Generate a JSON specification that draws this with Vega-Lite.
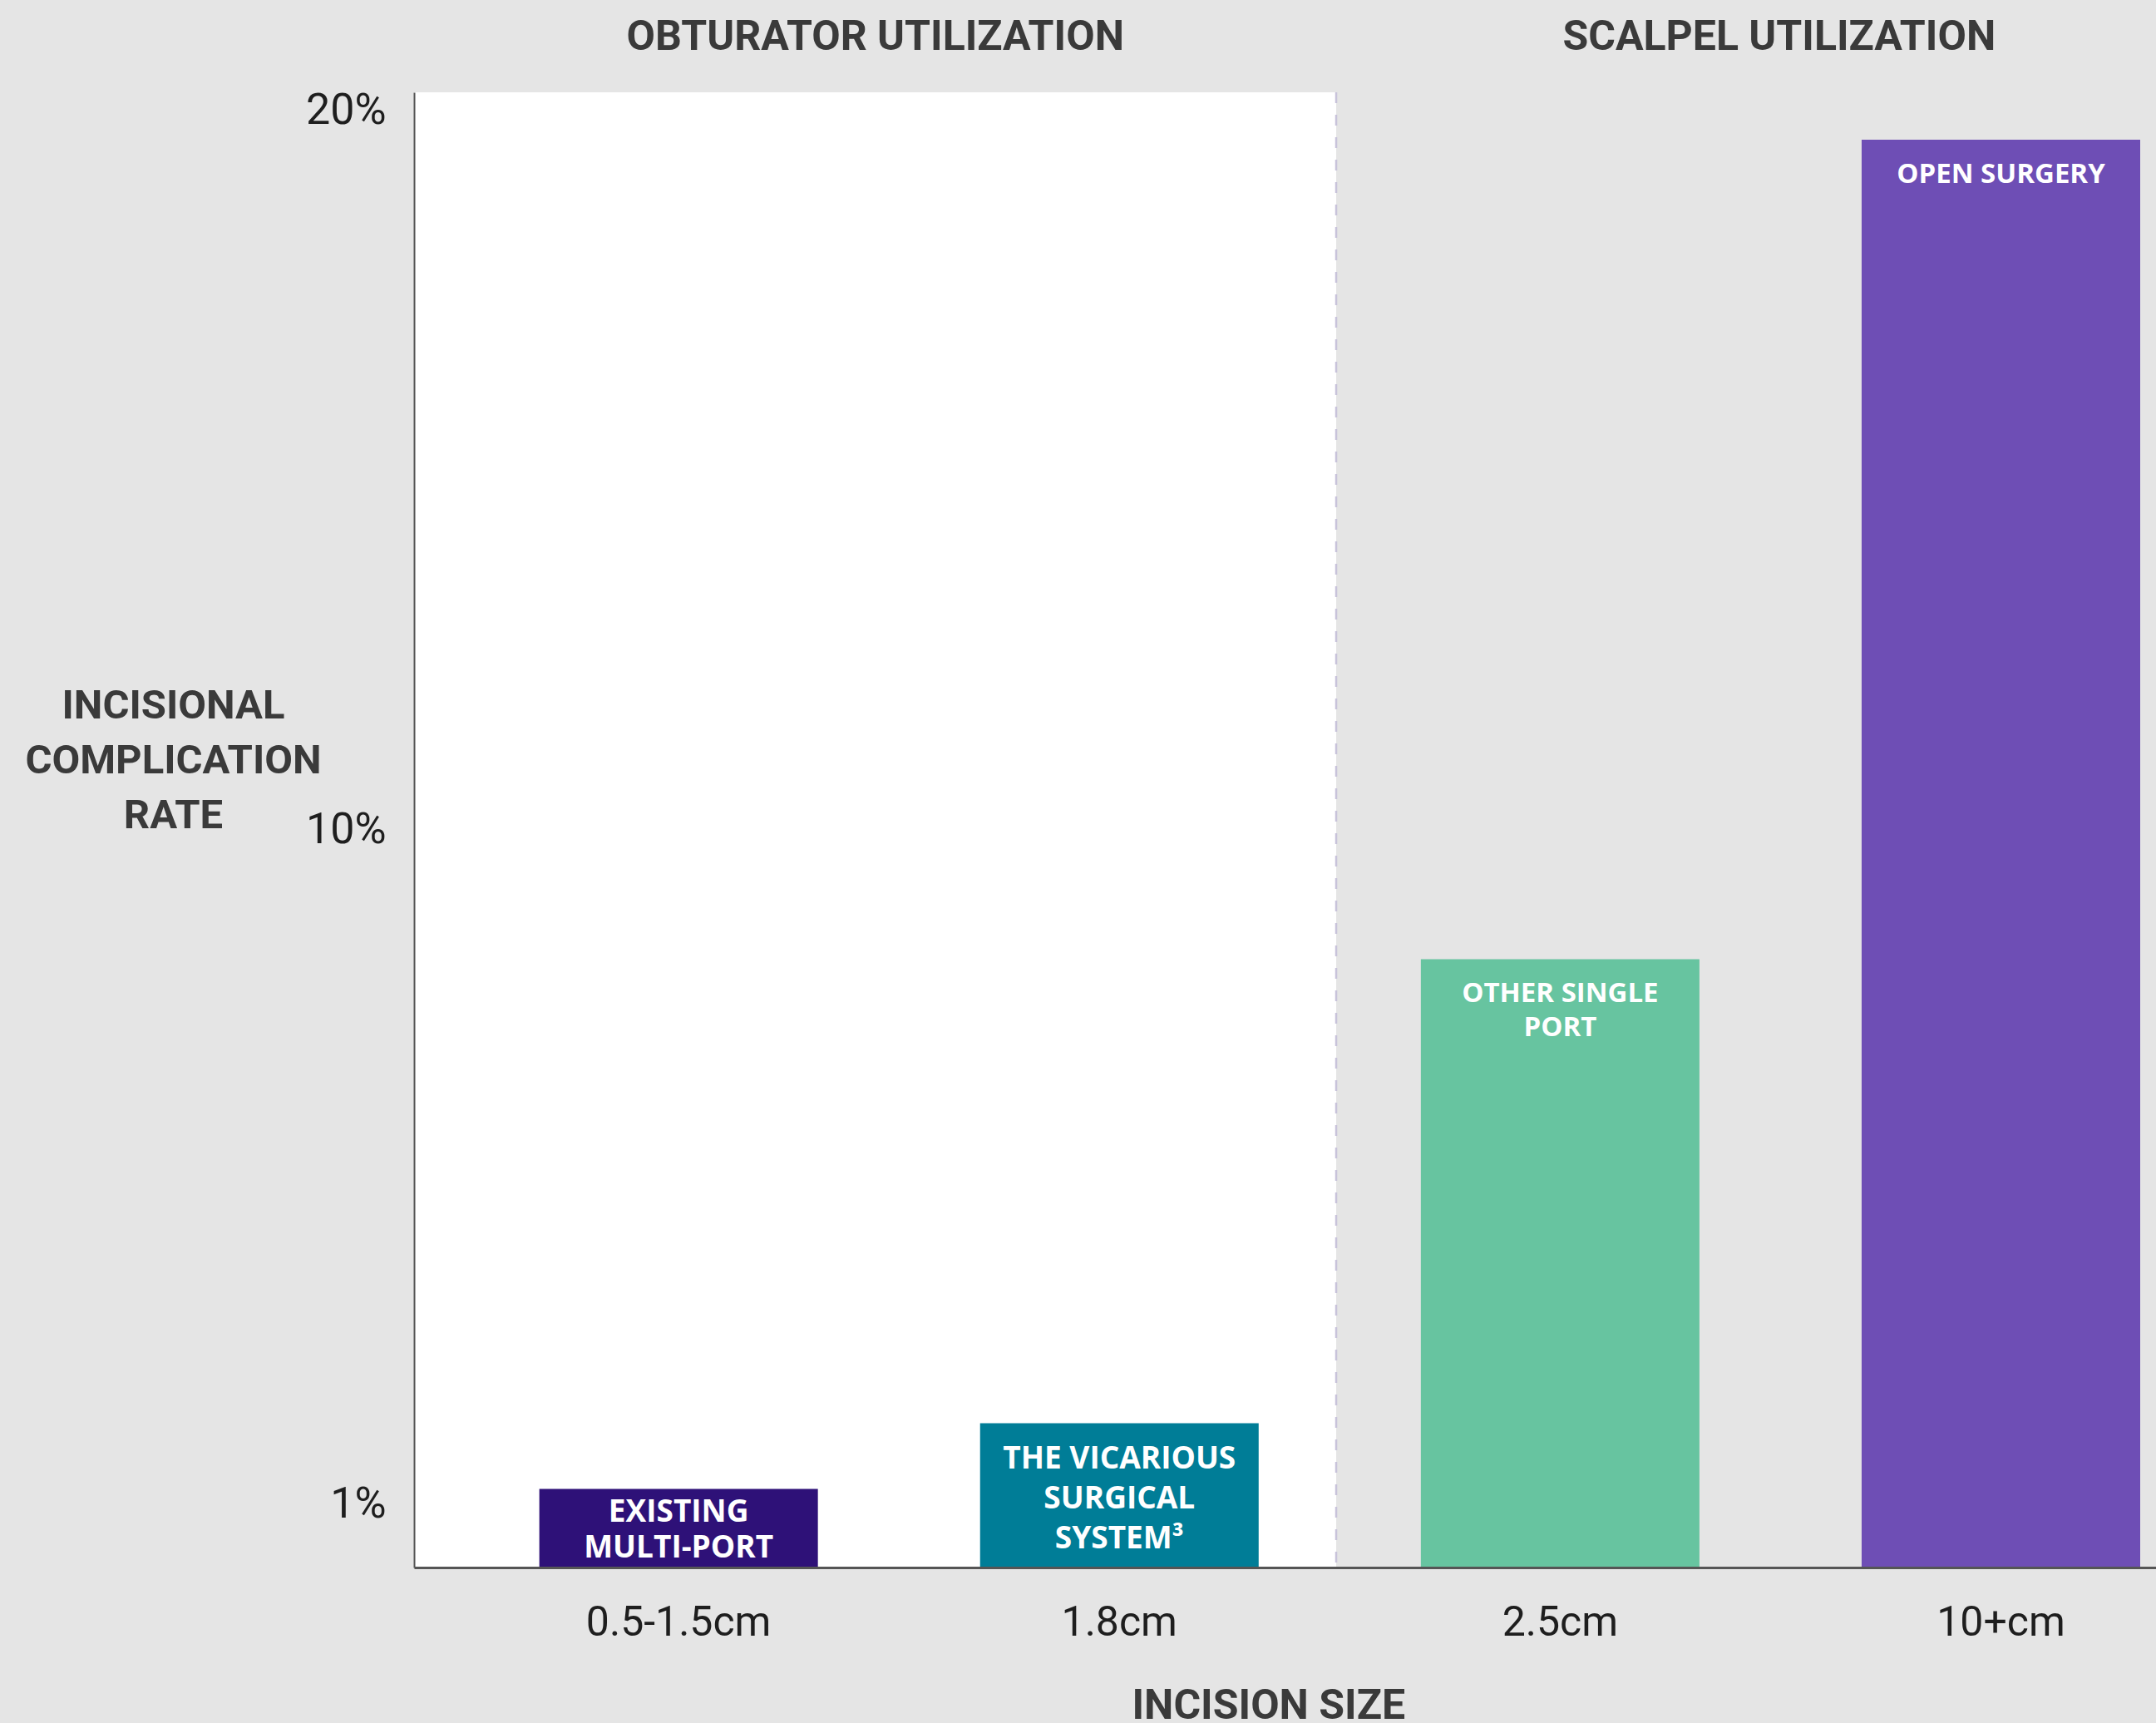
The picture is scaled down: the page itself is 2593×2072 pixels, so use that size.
{
  "$schema": "https://vega.github.io/schema/vega-lite/v6.json",
  "width": 2095,
  "height": 1774,
  "autosize": {"type": "none"},
  "padding": {"left": 498, "top": 111, "right": 0, "bottom": 187},
  "background": "#e5e5e5",
  "config": {"view": {"stroke": null}, "font": "Roboto"},
  "data": {
    "values": [
      {"size": "0.5-1.5cm", "system": "EXISTING\nMULTI-PORT", "rate": 1.08},
      {"size": "1.8cm", "system": "THE VICARIOUS\nSURGICAL\nSYSTEM³", "rate": 1.98},
      {"size": "2.5cm", "system": "OTHER SINGLE\nPORT", "rate": 8.35},
      {"size": "10+cm", "system": "OPEN SURGERY", "rate": 19.6}
    ]
  },
  "layer": [
    {
      "data": {"values": [{}]},
      "mark": {"type": "rect", "color": "#ffffff"},
      "encoding": {
        "x": {"datum": "0.5-1.5cm", "type": "nominal", "bandPosition": -0.45},
        "x2": {"datum": "2.5cm", "bandPosition": -0.304}
      }
    },
    {
      "data": {"values": [{}]},
      "mark": {"type": "rule", "stroke": "#c8c3da", "strokeWidth": 2.5, "strokeDash": [13, 14]},
      "encoding": {
        "x": {"datum": "2.5cm", "type": "nominal", "bandPosition": -0.304}
      }
    },
    {
      "mark": {"type": "bar"},
      "encoding": {
        "x": {
          "field": "size",
          "type": "nominal",
          "scale": {
            "domain": ["0.5-1.5cm", "1.8cm", "2.5cm", "10+cm"],
            "paddingInner": 0.368,
            "paddingOuter": 0.16,
            "align": 0.888
          },
          "axis": {
            "title": null,
            "bandPosition": 0.5,
            "labelAngle": 0,
            "labelAlign": "center",
            "labelLimit": 0,
            "ticks": false,
            "tickSize": 0,
            "domainColor": "#555555",
            "domainWidth": 3,
            "labelFontSize": 50,
            "labelColor": "#1e1e1e",
            "labelPadding": 66,
            "zindex": 1
          }
        },
        "y": {
          "field": "rate",
          "type": "quantitative",
          "scale": {"domain": [0, 20.25], "nice": false, "zero": true},
          "axis": {
            "title": ["INCISIONAL", "COMPLICATION", "RATE"],
            "values": [1, 10, 20],
            "labelExpr": "datum.value + '%'",
            "grid": false,
            "ticks": false,
            "tickSize": 0,
            "domainColor": "#555555",
            "domainWidth": 2,
            "labelFontSize": 52,
            "labelColor": "#1e1e1e",
            "labelPadding": 34,
            "labelOffset": {"condition": [{"test": "datum.value == 10", "value": -11}, {"test": "datum.value == 1", "value": 11}], "value": 0},
            "titleAngle": 0,
            "titleAlign": "center",
            "titleBaseline": "top",
            "titleX": -290,
            "titleY": 713,
            "titleFontSize": 49,
            "titleFontWeight": "bold",
            "titleColor": "#3a3a3a",
            "titleLineHeight": 66,
            "zindex": 1
          }
        },
        "color": {
          "field": "system",
          "type": "nominal",
          "scale": {
            "domain": ["EXISTING\nMULTI-PORT", "THE VICARIOUS\nSURGICAL\nSYSTEM³", "OTHER SINGLE\nPORT", "OPEN SURGERY"],
            "range": ["#2e1178", "#007d97", "#67c4a0", "#6e4eb5"]
          },
          "legend": null
        }
      }
    },
    {
      "transform": [{"filter": "datum.size == '0.5-1.5cm'"}],
      "mark": {"type": "text", "align": "center", "baseline": "top", "color": "#ffffff", "font": "Open Sans", "fontWeight": "bold", "fontSize": 37, "lineHeight": 43, "dy": 11, "lineBreak": "\n"},
      "encoding": {
        "x": {"field": "size", "type": "nominal"},
        "y": {"field": "rate", "type": "quantitative"},
        "text": {"field": "system"}
      }
    },
    {
      "transform": [{"filter": "datum.size == '1.8cm'"}],
      "mark": {"type": "text", "align": "center", "baseline": "top", "color": "#ffffff", "font": "Open Sans", "fontWeight": "bold", "fontSize": 37, "lineHeight": 48, "dy": 25, "lineBreak": "\n"},
      "encoding": {
        "x": {"field": "size", "type": "nominal"},
        "y": {"field": "rate", "type": "quantitative"},
        "text": {"field": "system"}
      }
    },
    {
      "transform": [{"filter": "datum.size == '2.5cm' || datum.size == '10+cm'"}],
      "mark": {"type": "text", "align": "center", "baseline": "top", "color": "#ffffff", "font": "Open Sans", "fontWeight": "bold", "fontSize": 33, "lineHeight": 41, "dy": 26, "lineBreak": "\n"},
      "encoding": {
        "x": {"field": "size", "type": "nominal"},
        "y": {"field": "rate", "type": "quantitative"},
        "text": {"field": "system"}
      }
    },
    {
      "data": {"values": [{}]},
      "mark": {"type": "text", "align": "center", "baseline": "middle", "color": "#3a3a3a", "fontWeight": "bold", "fontSize": 50},
      "encoding": {
        "x": {"datum": "1.8cm", "type": "nominal", "bandPosition": -0.376},
        "y": {"datum": 21.0, "type": "quantitative"},
        "text": {"value": "OBTURATOR UTILIZATION"}
      }
    },
    {
      "data": {"values": [{}]},
      "mark": {"type": "text", "align": "center", "baseline": "middle", "color": "#3a3a3a", "fontWeight": "bold", "fontSize": 50},
      "encoding": {
        "x": {"datum": "10+cm", "type": "nominal", "bandPosition": -0.296},
        "y": {"datum": 21.0, "type": "quantitative"},
        "text": {"value": "SCALPEL UTILIZATION"}
      }
    },
    {
      "data": {"values": [{}]},
      "mark": {"type": "text", "align": "center", "baseline": "middle", "color": "#3a3a3a", "fontWeight": "bold", "fontSize": 50},
      "encoding": {
        "x": {"datum": "1.8cm", "type": "nominal", "bandPosition": 1.036},
        "y": {"datum": -1.91, "type": "quantitative"},
        "text": {"value": "INCISION SIZE"}
      }
    }
  ]
}
